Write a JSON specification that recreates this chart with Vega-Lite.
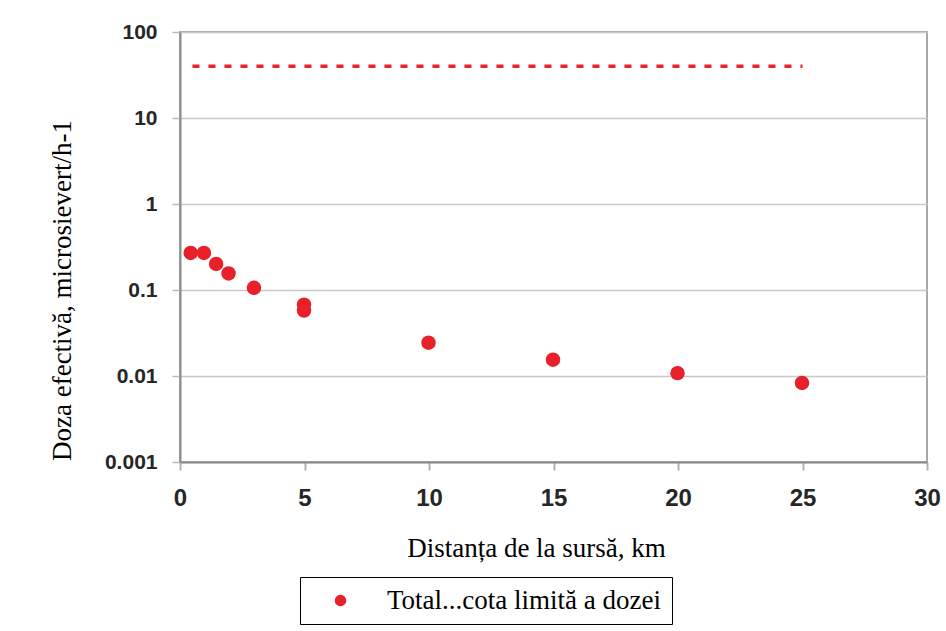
{
  "$schema": "https://vega.github.io/schema/vega-lite/v6.json",
  "width": 747,
  "height": 430,
  "autosize": "none",
  "padding": {"left": 180, "top": 32, "right": 19, "bottom": 169},
  "background": "white",
  "config": {
    "view": {"stroke": "#a8a8a8", "strokeWidth": 2}
  },
  "layer": [
    {
      "data": {
        "values": [
          {"distanta": 0.43, "doza": 0.27, "serie": "Total...cota limită a dozei"},
          {"distanta": 0.96, "doza": 0.27, "serie": "Total...cota limită a dozei"},
          {"distanta": 1.45, "doza": 0.201, "serie": "Total...cota limită a dozei"},
          {"distanta": 1.95, "doza": 0.156, "serie": "Total...cota limită a dozei"},
          {"distanta": 2.97, "doza": 0.106, "serie": "Total...cota limită a dozei"},
          {"distanta": 4.98, "doza": 0.0676, "serie": "Total...cota limită a dozei"},
          {"distanta": 4.98, "doza": 0.0577, "serie": "Total...cota limită a dozei"},
          {"distanta": 9.98, "doza": 0.0244, "serie": "Total...cota limită a dozei"},
          {"distanta": 14.98, "doza": 0.0155, "serie": "Total...cota limită a dozei"},
          {"distanta": 19.98, "doza": 0.0108, "serie": "Total...cota limită a dozei"},
          {"distanta": 24.98, "doza": 0.0083, "serie": "Total...cota limită a dozei"}
        ]
      },
      "mark": {"type": "circle", "size": 210, "opacity": 1},
      "encoding": {
        "x": {
          "field": "distanta",
          "type": "quantitative",
          "scale": {"domain": [0, 30], "nice": false, "zero": false},
          "axis": {
            "values": [0, 5, 10, 15, 20, 25, 30],
            "grid": false,
            "labelFlush": false,
            "tickSize": 8,
            "tickColor": "#b0b0b0",
            "tickWidth": 2,
            "domainColor": "#8c8c8c",
            "domainWidth": 2,
            "labelFont": "Liberation Sans",
            "labelFontWeight": "bold",
            "labelFontSize": 24,
            "labelColor": "#262626",
            "labelPadding": 16,
            "title": "Distanța de la sursă, km",
            "titleFont": "Liberation Serif",
            "titleFontWeight": "normal",
            "titleFontSize": 27,
            "titleColor": "black",
            "titleX": 356,
            "titleY": 86,
            "titleAlign": "center",
            "titleBaseline": "middle"
          }
        },
        "y": {
          "field": "doza",
          "type": "quantitative",
          "scale": {"type": "log", "domain": [0.001, 100], "nice": false},
          "axis": {
            "values": [0.001, 0.01, 0.1, 1, 10, 100],
            "format": "~g",
            "grid": true,
            "gridColor": "#c8c8c8",
            "gridWidth": 1.5,
            "tickSize": 8,
            "tickColor": "#b8b8b8",
            "tickWidth": 1.5,
            "domainColor": "#8c8c8c",
            "domainWidth": 2,
            "labelFont": "Liberation Sans",
            "labelFontWeight": "bold",
            "labelFontSize": 21,
            "labelColor": "#262626",
            "labelPadding": 15,
            "title": "Doza efectivă, microsievert/h-1",
            "titleFont": "Liberation Serif",
            "titleFontWeight": "normal",
            "titleFontSize": 27,
            "titleColor": "black",
            "titleAngle": -90,
            "titleX": -118,
            "titleY": 258,
            "titleAlign": "center",
            "titleBaseline": "middle"
          }
        },
        "color": {
          "field": "serie",
          "type": "nominal",
          "scale": {"range": ["#e8202a"]},
          "legend": {
            "title": null,
            "orient": "none",
            "legendX": 120,
            "legendY": 545,
            "strokeColor": "black",
            "fillColor": "white",
            "padding": 10,
            "symbolType": "circle",
            "symbolSize": 135,
            "symbolOpacity": 1,
            "symbolOffset": 17,
            "labelFont": "Liberation Serif",
            "labelFontSize": 27,
            "labelColor": "black",
            "labelOffset": 33,
            "labelLimit": 500,
            "encode": {
              "entries": {"update": {"width": {"value": 453}, "height": {"value": 50}}}
            }
          }
        }
      }
    },
    {
      "data": {"values": [{"distanta": 0.5, "doza": 40}, {"distanta": 25, "doza": 40}]},
      "mark": {"type": "line", "color": "#e8202a", "strokeDash": [7, 9], "strokeWidth": 3.5},
      "encoding": {
        "x": {"field": "distanta", "type": "quantitative"},
        "y": {"field": "doza", "type": "quantitative"}
      }
    }
  ]
}
